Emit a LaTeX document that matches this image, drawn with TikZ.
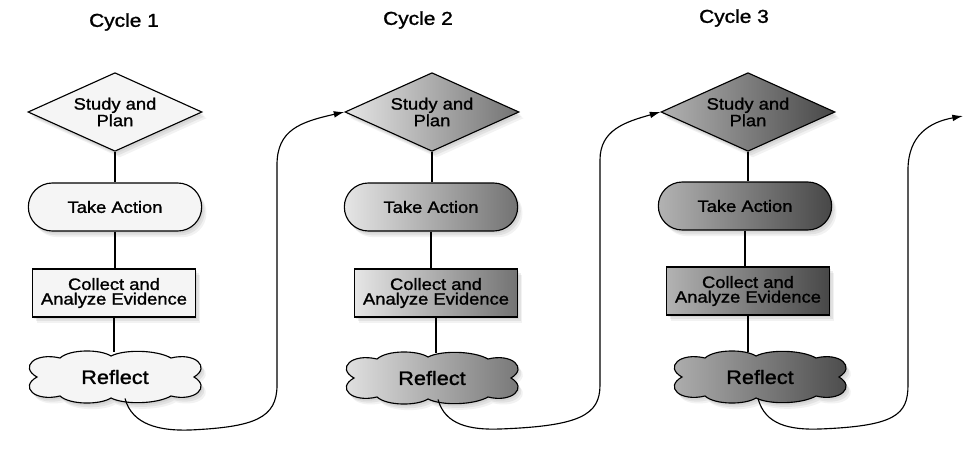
\documentclass[tikz,border=0pt]{standalone}
\usepackage{fontspec}
\setmainfont{Liberation Sans}[FakeStretch=1.12,FakeBold=1.3]
\usetikzlibrary{shapes.geometric,shapes.misc,shadows,arrows.meta}
\newcommand\cloudoutline{%
  (-78,0) .. controls (-96,-10) and (-80,-25) .. (-55,-19)
  .. controls (-45,-28) and (-15,-28) .. (-4,-21)
  .. controls (10,-28) and (42,-27) .. (56,-19)
  .. controls (80,-25) and (96,-10) .. (79,0)
  .. controls (96,10) and (80,25) .. (56,19)
  .. controls (42,27) and (10,28) .. (-4,21)
  .. controls (-15,28) and (-45,28) .. (-55,19)
  .. controls (-80,25) and (-96,10) .. (-78,0) -- cycle}
\begin{document}
\begin{tikzpicture}[x=0.75pt,y=-0.75pt,
  softshadow/.style={
    drop shadow={opacity=0.13, shadow xshift=1.2pt, shadow yshift=-1.8pt},
    drop shadow={opacity=0.13, shadow xshift=2.4pt, shadow yshift=-3.2pt},
    drop shadow={opacity=0.10, shadow xshift=3.6pt, shadow yshift=-4.6pt}},
  base/.style={draw=black, line width=0.85pt, align=center, inner sep=0pt,
    font=\fontsize{12.3}{11}\selectfont, text=black, softshadow},
  plan/.style={base, diamond, shape aspect=2.175, minimum width=130.5pt, minimum height=59pt},
  act/.style={base, rounded rectangle, minimum width=130pt, minimum height=36pt},
  coll/.style={base, rectangle, minimum width=122pt, minimum height=36pt},
  cloudfill/.style={draw=black, line width=0.85pt, softshadow},
  refl/.style={inner sep=0pt, minimum width=133.5pt, minimum height=33.75pt,
    font=\fontsize{14.5}{14}\selectfont},
  sA/.style={fill=black!4},
  sB/.style={left color=black!10, right color=black!55},
  sC/.style={left color=black!30, right color=black!72},
  title/.style={font=\fontsize{14}{14}\selectfont, inner sep=0pt},
  link/.style={line width=0.85pt},
  loop/.style={line width=0.85pt, -{Latex[length=8pt,width=5pt]}}
]
\useasboundingbox (0,0) rectangle (965,454);
\fill[white] (0,0) rectangle (965,454);

% titles
\node[title] (t1) at (124,22) {Cycle 1};
\node[title] (t2) at (418,20) {Cycle 2};
\node[title] (t3) at (734,18) {Cycle 3};

% cloud bodies
\path[cloudfill, sA, shift={(115,377)}] \cloudoutline;
\path[cloudfill, sB, shift={(432,378)}] \cloudoutline;
\path[cloudfill, sC, shift={(760,377)}] \cloudoutline;

% cycle 1
\node[plan, sA] (d1) at (115,112) {Study and\\Plan};
\node[act, sA]  (a1) at (115,207) {Take Action};
\node[coll, sA] (c1) at (114,293) {Collect and\\Analyze Evidence};
\node[refl] (r1) at (115,377) {Reflect};

% cycle 2
\node[plan, sB] (d2) at (432,112) {Study and\\Plan};
\node[act, sB]  (a2) at (431,207) {Take Action};
\node[coll, sB] (c2) at (436,293) {Collect and\\Analyze Evidence};
\node[refl] (r2) at (432,378) {Reflect};

% cycle 3
\node[plan, sC] (d3) at (748,112) {Study and\\Plan};
\node[act, sC]  (a3) at (745,206) {Take Action};
\node[coll, sC] (c3) at (748,291) {Collect and\\Analyze Evidence};
\node[refl] (r3) at (760,377) {Reflect};

\coordinate (e3) at (963,116);

% vertical links
\draw[link] (d1.south) -- (a1.north -| d1.south);
\draw[link] (a1.south) -- (c1.north -| a1.south);
\draw[link] (c1.south) -- ([yshift=1.5pt]r1.north -| c1.south);
\draw[link] (d2.south) -- (a2.north -| d2.south);
\draw[link] (a2.south) -- (c2.north -| a2.south);
\draw[link] (c2.south) -- ([yshift=1.5pt]r2.north -| c2.south);
\draw[link] (d3.south) -- (a3.north -| d3.south);
\draw[link] (a3.south) -- (c3.north -| a3.south);
\draw[link] (c3.south) -- ([yshift=1.5pt]r3.north -| c3.south);

% loops
\draw[loop] ([xshift=7.5pt,yshift=1pt]r1.south) .. controls (132,425) and (160,431) .. (190,430)
  .. controls (255,427) and (277,418) .. (277,385) -- (277,165)
  .. controls (277,130) and (300,122) .. (d2.west);
\draw[loop] ([xshift=4.5pt,yshift=1pt]r2.south) .. controls (445,425) and (470,430) .. (500,429)
  .. controls (580,426) and (600,415) .. (600,385) -- (600,160)
  .. controls (600,130) and (625,122) .. (d3.west);
\draw[loop] ([xshift=-1.5pt,yshift=1pt]r3.south) .. controls (765,425) and (790,430) .. (820,429)
  .. controls (895,426) and (908,415) .. (908,385) -- (908,170)
  .. controls (908,135) and (930,122) .. (e3);
\end{tikzpicture}
\end{document}
